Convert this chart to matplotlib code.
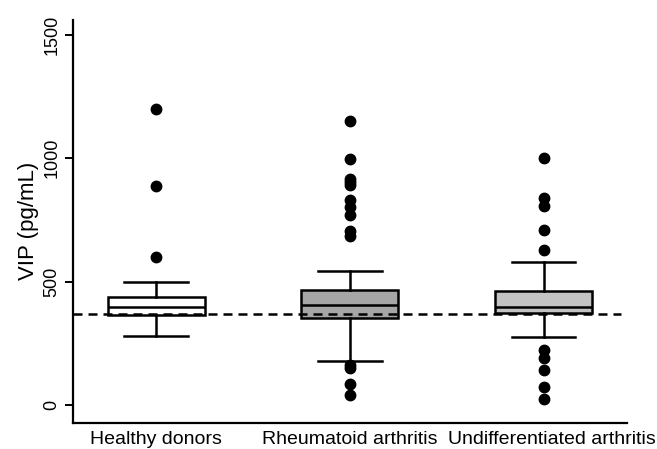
import matplotlib
matplotlib.use('Agg')
import matplotlib.pyplot as plt
import matplotlib.transforms as mtransforms

plt.rcParams['font.family'] = ['Liberation Sans', 'DejaVu Sans']

groups = ['Healthy donors', 'Rheumatoid arthritis', 'Undifferentiated arthritis']
q1 = [366, 353, 373]
medians = [400, 408, 400]
q3 = [438, 465, 464]
whisker_low = [280, 181, 277]
whisker_high = [499, 542, 580]
outliers = [
    [1200, 888, 600],
    [1153, 999, 918, 904, 890, 832, 802, 771, 706, 686, 164, 153, 87, 41],
    [1001, 839, 805, 710, 630, 225, 191, 144, 76, 25],
]
box_colors = ['white', '#a6a6a6', '#c3c3c3']
reference_level = 368


def main():
    fig = plt.figure(figsize=(6.57, 4.49), dpi=100)
    ax = fig.add_axes([0.111, 0.0586, 0.843, 0.897])

    stats = []
    for i in range(len(groups)):
        stats.append({
            'q1': q1[i], 'med': medians[i], 'q3': q3[i],
            'whislo': whisker_low[i], 'whishi': whisker_high[i],
            'fliers': outliers[i], 'label': groups[i],
        })

    lw = 1.8
    bp = ax.bxp(stats, positions=[1, 2, 3], widths=0.5, patch_artist=True,
                capwidths=0.33,
                boxprops=dict(linewidth=lw, edgecolor='black'),
                medianprops=dict(color='black', linewidth=lw),
                whiskerprops=dict(color='black', linewidth=lw),
                capprops=dict(color='black', linewidth=lw),
                flierprops=dict(marker='o', markerfacecolor='black',
                                markeredgecolor='black', markersize=7.5))
    for patch, c in zip(bp['boxes'], box_colors):
        patch.set_facecolor(c)

    ax.axhline(reference_level, xmin=0, xmax=0.989, color='black',
               linestyle=(0, (3.6, 2.4)), linewidth=1.8, zorder=10)

    ax.set_xlim(0.57, 3.43)
    ax.set_ylim(-70, 1560)
    ax.set_yticks([0, 500, 1000, 1500])
    ax.set_yticklabels(['0', '500', '1000', '1500'], rotation=90, va='center')
    ax.tick_params(axis='y', labelsize=13, length=6, width=1.4, pad=3)
    ax.tick_params(axis='x', labelsize=14, length=0, pad=6)
    ax.set_ylabel('VIP (pg/mL)', fontsize=16, labelpad=3)

    # last label sits a little to the right in the original
    lab = ax.get_xticklabels()[2]
    lab.set_transform(lab.get_transform() +
                      mtransforms.ScaledTranslation(0.08, 0, fig.dpi_scale_trans))

    for s in ['top', 'right']:
        ax.spines[s].set_visible(False)
    for s in ['left', 'bottom']:
        ax.spines[s].set_linewidth(1.6)

    fig.savefig('out.png', dpi=100)


if __name__ == '__main__':
    main()
